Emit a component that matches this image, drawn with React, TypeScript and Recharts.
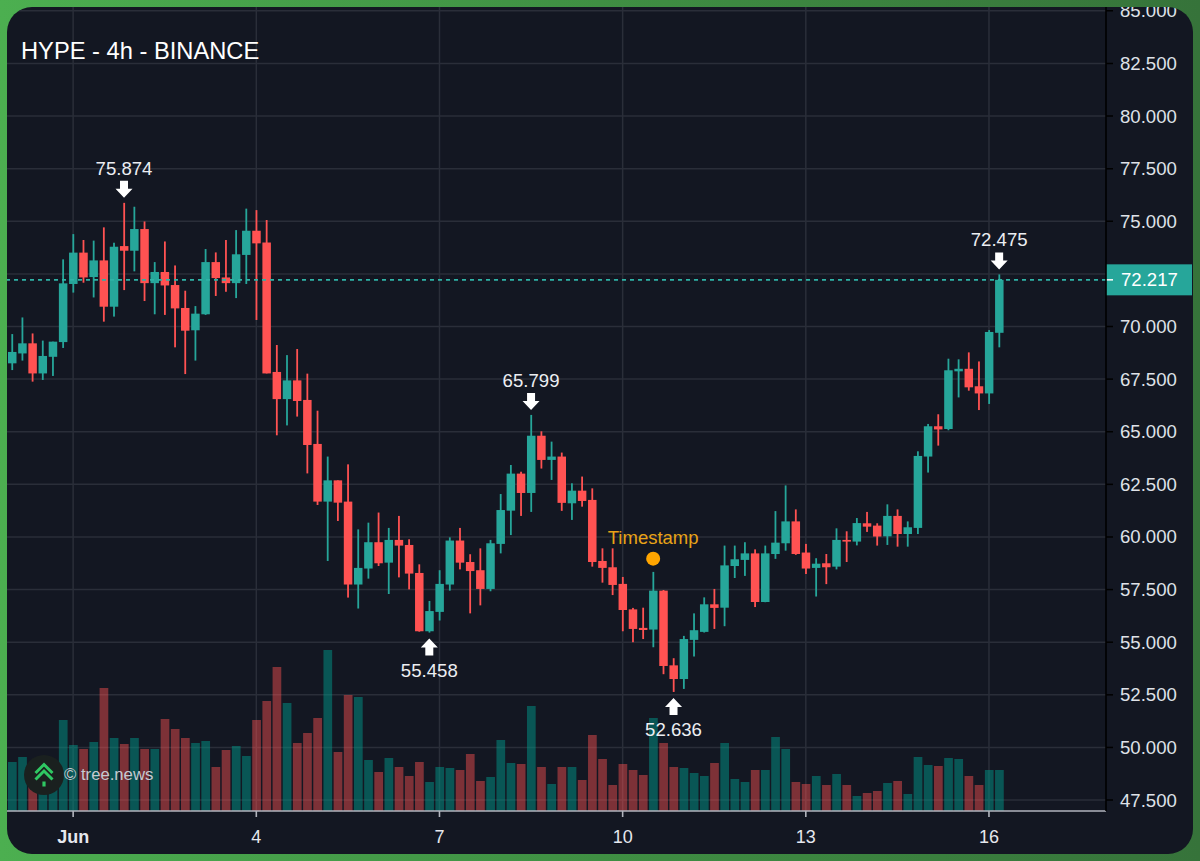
// App.tsx - HYPE 4h candles with volume
import React from 'react';
import {
  ComposedChart,
  Bar,
  XAxis,
  YAxis,
  CartesianGrid,
  ReferenceLine,
  ReferenceDot,
} from 'recharts';

const UP = '#26a69a';
const DOWN = '#ff5252';
const FONT = '"Liberation Sans", Arial, sans-serif';

// one candle every 4h
const opens = [
  68.25, 68.72, 69.2, 67.77, 68.56, 69.26, 72.02, 73.51, 72.35, 73.14,
  70.94, 73.82, 73.6, 74.63, 72.06, 72.59, 71.97, 70.88, 69.82, 70.58,
  73.06, 72.33, 72.06, 73.4, 74.55, 73.99, 67.84, 66.55, 67.44, 66.51,
  64.42, 61.68, 62.69, 61.68, 57.74, 58.5, 59.75, 58.78, 59.86, 59.62,
  58.29, 55.52, 56.44, 57.74, 59.83, 58.81, 58.42, 57.53, 59.67, 61.25,
  63.01, 62.09, 64.81, 63.66, 63.82, 61.6, 62.2, 61.76, 58.86, 58.56,
  57.77, 56.56, 55.68, 55.6, 57.45, 53.9, 53.25, 55.11, 55.49, 56.8,
  56.64, 58.62, 58.91, 59.22, 56.91, 59.19, 59.7, 60.74, 59.26, 58.53,
  58.75, 58.59, 59.86, 59.78, 60.65, 60.54, 60.03, 61.0, 60.14, 60.43,
  63.82, 65.26, 65.13, 67.87, 67.99, 67.16, 66.82, 69.7,
];
const closes = [
  68.79, 69.2, 67.77, 68.6, 69.28, 72.05, 73.51, 72.33, 73.14, 70.94,
  73.79, 73.6, 74.63, 72.06, 72.59, 71.95, 70.86, 69.8, 70.61, 73.06,
  72.3, 72.06, 73.43, 74.55, 73.95, 67.77, 66.55, 67.44, 66.46, 64.37,
  61.68, 62.69, 61.63, 57.74, 58.53, 59.75, 58.75, 59.86, 59.59, 58.26,
  55.52, 56.48, 57.77, 59.83, 58.78, 58.38, 57.53, 59.7, 61.28, 63.01,
  62.09, 64.81, 63.66, 63.82, 61.62, 62.2, 61.71, 58.81, 58.53, 57.72,
  56.53, 55.63, 55.58, 57.45, 53.87, 53.25, 55.15, 55.57, 56.8, 56.63,
  58.65, 58.94, 59.22, 56.91, 59.22, 59.73, 60.74, 59.19, 58.5, 58.73,
  58.56, 59.86, 59.78, 60.66, 60.49, 60.02, 61.0, 60.14, 60.46, 63.85,
  65.26, 65.11, 67.92, 67.99, 67.11, 66.82, 69.74, 72.217,
];
const highs = [
  69.64, 70.43, 69.67, 69.33, 69.28, 73.19, 74.39, 74.11, 74.08, 74.71,
  73.98, 75.874, 75.69, 74.99, 73.06, 74.04, 72.9, 71.7, 70.97, 73.68,
  73.52, 74.11, 74.58, 75.6, 75.53, 75.06, 69.12, 68.64, 68.93, 67.76,
  66.0, 63.82, 62.69, 63.45, 60.36, 60.68, 61.16, 60.43, 61.0, 59.89,
  58.7, 56.96, 58.42, 59.98, 60.43, 59.18, 59.46, 59.86, 62.04, 63.42,
  63.1, 65.799, 65.02, 64.53, 64.01, 62.55, 62.87, 62.31, 59.46, 59.46,
  58.1, 56.63, 56.64, 58.34, 57.48, 54.24, 55.3, 56.37, 57.13, 57.53,
  59.59, 59.59, 59.75, 59.41, 59.59, 61.23, 62.45, 61.31, 59.67, 58.99,
  59.19, 60.41, 60.27, 60.9, 61.19, 60.65, 61.55, 61.31, 60.74, 64.07,
  65.37, 65.83, 68.47, 68.44, 68.77, 68.34, 69.83, 72.475,
];
const lows = [
  67.93, 68.38, 67.38, 67.46, 67.65, 68.98, 71.61, 72.08, 71.38, 70.23,
  70.47, 71.73, 72.62, 71.21, 70.58, 70.55, 69.01, 67.74, 68.38, 70.55,
  71.45, 71.65, 71.35, 72.02, 70.31, 67.77, 64.83, 65.3, 65.72, 63.02,
  61.52, 58.86, 60.76, 57.12, 56.6, 58.02, 58.62, 57.29, 58.08, 57.51,
  55.5, 55.458, 56.03, 57.45, 58.46, 56.37, 56.75, 57.42, 59.22, 60.09,
  61.0, 61.19, 63.25, 62.71, 61.24, 60.81, 61.44, 58.59, 57.83, 57.24,
  55.52, 55.0, 55.15, 54.76, 53.48, 52.636, 52.78, 54.32, 55.46, 55.63,
  55.76, 58.05, 58.15, 56.67, 56.9, 58.96, 59.35, 59.15, 58.24, 57.17,
  57.76, 58.46, 58.81, 59.6, 60.24, 59.59, 59.62, 59.54, 59.54, 60.14,
  63.06, 64.34, 65.07, 66.63, 66.95, 66.03, 66.32, 69.01,
];
const volumes = [
  49, 54, 37, 30, 45, 91, 66, 62, 69, 123,
  73, 67, 73, 62, 62, 92, 82, 73, 68, 70,
  44, 61, 65, 55, 91, 110, 144, 108, 68, 78,
  93, 161, 59, 116, 114, 51, 39, 53, 44, 35,
  49, 29, 44, 43, 41, 57, 30, 34, 71, 48,
  47, 105, 44, 27, 44, 44, 31, 76, 52, 26,
  47, 41, 36, 93, 68, 44, 43, 38, 35, 48,
  68, 32, 29, 41, 41, 74, 62, 29, 27, 35,
  26, 37, 26, 15, 18, 20, 28, 30, 17, 54,
  46, 45, 53, 52, 35, 26, 41, 41,
];

const SLOTS = 108; // axis runs on past the last candle
const priceTicks = [47.5, 50, 52.5, 55, 57.5, 60, 62.5, 65, 67.5, 70, 72.5, 75, 77.5, 80, 82.5, 85];
const hiddenPriceTick = 72.5; // sits behind the last price tag
const dayTicks = [6, 24, 42, 60, 78, 96];
const dayLabels = ['Jun', '4', '7', '10', '13', '16'];
const LAST_PRICE = 72.217;

const highMarks = [
  { t: 11, v: 75.874 },
  { t: 51, v: 65.799 },
  { t: 97, v: 72.475 },
];
const lowMarks = [
  { t: 41, v: 55.458 },
  { t: 65, v: 52.636 },
];
const stamp = { t: 63, v: 58.97, label: 'Timestamp' };

const rows = Array.from({ length: SLOTS }, (_, t) =>
  t < opens.length
    ? {
        t,
        o: opens[t],
        c: closes[t],
        range: [lows[t], highs[t]],
        vol: volumes[t],
      }
    : { t }
);

const Candle = (props: any) => {
  const { x, y, width, height, payload } = props;
  if (payload.o == null || !height) return null;
  const [l, h] = payload.range;
  const perUnit = height / (h - l);
  const top = y + (h - Math.max(payload.o, payload.c)) * perUnit;
  const bottom = y + (h - Math.min(payload.o, payload.c)) * perUnit;
  const color = payload.c >= payload.o ? UP : DOWN;
  const mid = x + width / 2;
  return (
    <g>
      <rect x={mid - 0.9} y={y} width={1.8} height={height} fill={color} />
      <rect x={x} y={top} width={width} height={Math.max(bottom - top, 1.5)} fill={color} />
    </g>
  );
};

const VolumeBar = (props: any) => {
  const { x, y, width, height, payload } = props;
  if (payload.o == null || !height) return null;
  const isUp = payload.c >= payload.o;
  return (
    <rect
      x={x}
      y={y}
      width={width}
      height={height}
      fill={isUp ? '#009688' : DOWN}
      fillOpacity={isUp ? 0.5 : 0.45}
    />
  );
};

const DayTick = (props: any) => {
  const { x, y, payload } = props;
  const label = dayLabels[dayTicks.indexOf(payload.value)];
  return (
    <text
      x={x}
      y={y + 24}
      textAnchor="middle"
      fontSize={18}
      fontFamily={FONT}
      fontWeight={label === 'Jun' ? 700 : 400}
      fill="#e6e8ee"
    >
      {label}
    </text>
  );
};

const PriceTick = (props: any) => {
  const { x, y, payload } = props;
  if (payload.value === hiddenPriceTick) return null;
  return (
    <g>
      <line x1={x - 14} x2={x - 7} y1={y} y2={y} stroke="#000000" strokeWidth={1.5} />
      <text x={x} y={y + 6.5} fontSize={18.6} fontFamily={FONT} fill="#dfe2e8">
        {payload.value.toFixed(3)}
      </text>
    </g>
  );
};

const HighMark = (props: any) => {
  const { cx, cy, value } = props;
  const tip = cy - 5;
  return (
    <g>
      <text x={cx} y={cy - 28} textAnchor="middle" fontSize={18.6} fontFamily={FONT} fill="#eceef2">
        {value.toFixed(3)}
      </text>
      <path
        d={`M${cx - 4} ${tip - 17}h8v8h4.5L${cx} ${tip}l-8.5-9h4.5z`}
        fill="#ffffff"
      />
    </g>
  );
};

const LowMark = (props: any) => {
  const { cx, cy, value } = props;
  const tip = cy + 6;
  return (
    <g>
      <path
        d={`M${cx - 4} ${tip + 17}h8v-8h4.5L${cx} ${tip}l-8.5 9h4.5z`}
        fill="#ffffff"
      />
      <text x={cx} y={cy + 44} textAnchor="middle" fontSize={18.6} fontFamily={FONT} fill="#eceef2">
        {value.toFixed(3)}
      </text>
    </g>
  );
};

const StampMark = (props: any) => {
  const { cx, cy } = props;
  return (
    <g>
      <text x={cx} y={cy - 15} textAnchor="middle" fontSize={18.5} fontFamily={FONT} fill="#e8a317">
        {stamp.label}
      </text>
      <circle cx={cx} cy={cy} r={7} fill="#ffa500" />
    </g>
  );
};

const PriceTag = (props: any) => {
  const { viewBox } = props;
  const right = viewBox.x + viewBox.width;
  const mid = viewBox.y;
  return (
    <g>
      <rect x={right} y={mid - 15.5} width={86} height={31} fill={UP} />
      <line x1={right} x2={right + 7} y1={mid} y2={mid} stroke="#ffffff" strokeWidth={1.5} />
      <text x={right + 15} y={mid + 6.5} fontSize={18.6} fontFamily={FONT} fill="#ffffff">
        {LAST_PRICE.toFixed(3)}
      </text>
    </g>
  );
};

export default function App() {
  return (
    <div
      style={{
        position: 'absolute',
        left: 0,
        top: 0,
        width: 1200,
        height: 861,
        overflow: 'hidden',
        background: 'linear-gradient(90deg, #4caf50 0%, #3f8f43 50%, #36733a 100%)',
      }}
    >
      <div
        style={{
          position: 'absolute',
          left: 7,
          top: 7,
          width: 1186,
          height: 847,
          borderRadius: 25,
          overflow: 'hidden',
          background: '#131722',
          fontFamily: FONT,
        }}
      >
        <ComposedChart
          width={1186}
          height={847}
          data={rows}
          margin={{ top: 0, right: 0, bottom: 0, left: 0 }}
        >
          <XAxis
            dataKey="t"
            type="category"
            ticks={dayTicks}
            interval={0}
            height={43}
            stroke="#b2b5be"
            strokeWidth={1.6}
            tickSize={6}
            tick={<DayTick />}
          />
          <XAxis dataKey="t" type="category" xAxisId="vol" hide />
          <YAxis
            yAxisId="price"
            orientation="right"
            type="number"
            width={87}
            domain={[46.98, 85.18]}
            allowDataOverflow
            ticks={priceTicks}
            interval={0}
            stroke="#000000"
            strokeWidth={1.6}
            tickLine={false}
            tickSize={7}
            tickMargin={7}
            tick={<PriceTick />}
          />
          <YAxis yAxisId="vol" type="number" domain={[0, 804]} hide />
          <CartesianGrid yAxisId="price" stroke="#2a2e39" strokeWidth={1.5} syncWithTicks />
          <Bar
            dataKey="vol"
            xAxisId="vol"
            yAxisId="vol"
            barSize={8.7}
            shape={<VolumeBar />}
            isAnimationActive={false}
          />
          <Bar
            dataKey="range"
            yAxisId="price"
            barSize={8.5}
            shape={<Candle />}
            isAnimationActive={false}
          />
          <ReferenceLine
            yAxisId="price"
            y={LAST_PRICE}
            stroke="#2fb3a6"
            strokeWidth={1.6}
            strokeDasharray="4 4"
            label={<PriceTag />}
          />
          {highMarks.map((m) => (
            <ReferenceDot
              key={m.t}
              yAxisId="price"
              x={m.t}
              y={m.v}
              shape={(p: any) => <HighMark {...p} value={m.v} />}
            />
          ))}
          {lowMarks.map((m) => (
            <ReferenceDot
              key={m.t}
              yAxisId="price"
              x={m.t}
              y={m.v}
              shape={(p: any) => <LowMark {...p} value={m.v} />}
            />
          ))}
          <ReferenceDot yAxisId="price" x={stamp.t} y={stamp.v} shape={<StampMark />} />
        </ComposedChart>

        <div
          style={{
            position: 'absolute',
            left: 14,
            top: 30,
            fontSize: 23.7,
            lineHeight: '28px',
            color: '#ffffff',
          }}
        >
          HYPE - 4h - BINANCE
        </div>

        {/* logo and credit */}
        <svg width={40} height={40} style={{ position: 'absolute', left: 17, top: 748 }}>
          <circle cx={20} cy={20} r={20} fill="#1a201f" />
          <path d="M11.5 18 L20 9.5 L28.5 18" fill="none" stroke="#2fc763" strokeWidth={3} />
          <path d="M11.5 24.5 L20 16 L28.5 24.5" fill="none" stroke="#2fc763" strokeWidth={3} />
          <rect x={18.4} y={26.5} width={3.2} height={5} fill="#2fc763" />
        </svg>
        <div
          style={{
            position: 'absolute',
            left: 57,
            top: 758,
            fontSize: 16.7,
            lineHeight: '20px',
            color: '#c5c9d0',
          }}
        >
          © tree.news
        </div>
      </div>
    </div>
  );
}
